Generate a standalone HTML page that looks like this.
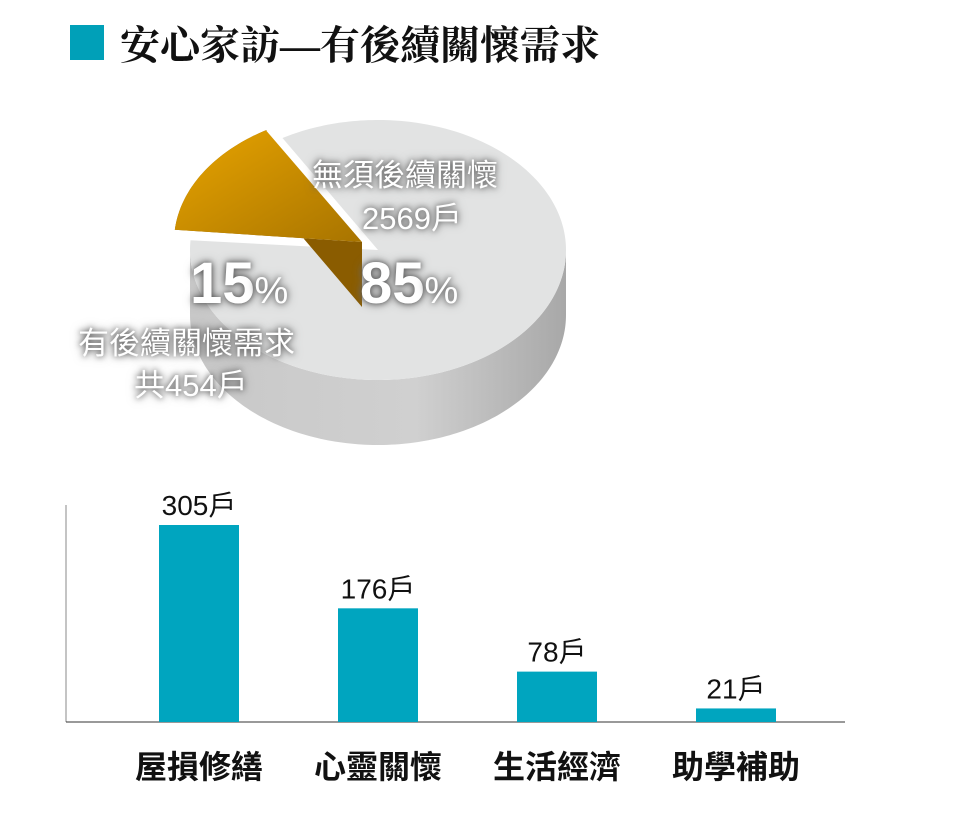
<!DOCTYPE html>
<html><head><meta charset="utf-8">
<style>
body{margin:0;width:980px;height:822px;background:#fff;overflow:hidden;position:relative;font-family:"Liberation Sans","Noto Sans CJK TC",sans-serif;}
.t{position:absolute;white-space:nowrap;}
</style></head><body>
<div class="t" style="left:70px;top:25px;width:34px;height:35px;background:#00a0b8"></div>
<div class="t" style="left:120px;top:14px;font-family:'Liberation Serif','Noto Serif CJK SC',serif;font-weight:bold;font-size:40px;color:#111">安心家訪—有後續關懷需求</div>

<svg width="980" height="822" style="position:absolute;left:0;top:0">
<defs>
<linearGradient id="side" x1="0" x2="1"><stop offset="0" stop-color="#c8c8c8"/><stop offset="0.6" stop-color="#d0d0d0"/><stop offset="1" stop-color="#a8a8a8"/></linearGradient>
<linearGradient id="or" x1="0" x2="1" y1="0" y2="1"><stop offset="0" stop-color="#e8a400"/><stop offset="1" stop-color="#a87400"/></linearGradient>
</defs>
<g id="pie"></g>
</svg>

<div class="t" style="left:312px;top:150px;font-size:31px;color:#fff;text-shadow:0 0 6px #555,0 0 10px #777">無須後續關懷</div>
<div class="t" style="left:362px;top:193px;font-size:31px;color:#fff;text-shadow:0 0 6px #555,0 0 10px #777">2569戶</div>
<div class="t" style="left:360px;top:250px;font-size:58px;font-weight:bold;color:#fff;text-shadow:0 0 6px #555,0 0 10px #777">85<span style="font-size:38px;font-weight:normal">%</span></div>
<div class="t" style="left:190px;top:250px;font-size:58px;font-weight:bold;color:#fff;text-shadow:0 0 6px #555,0 0 10px #777">15<span style="font-size:38px;font-weight:normal">%</span></div>
<div class="t" style="left:78px;top:318px;font-size:31px;color:#fff;text-shadow:0 0 6px #555,0 0 10px #777">有後續關懷需求</div>
<div class="t" style="left:134px;top:360px;font-size:31px;color:#fff;text-shadow:0 0 6px #555,0 0 10px #777">共454戶</div>

<svg id="bars" width="980" height="822" style="position:absolute;left:0;top:0"></svg>

<script>
// pie
const sliceLabels=["無須後續關懷","有後續關懷需求"];
const sliceValues=[2569,454];
// bars
const categories=["屋損修繕","心靈關懷","生活經濟","助學補助"];
const values=[305,176,78,21];

const NS="http://www.w3.org/2000/svg";
function mk(t,a,p){const e=document.createElementNS(NS,t);for(const k in a)e.setAttribute(k,a[k]);p.appendChild(e);return e;}

// pie drawing
const pg=document.getElementById('pie');
const cx=378,cy=250,rx=188,ry=130,th=65;
const tot=sliceValues[0]+sliceValues[1];
const a0=Math.PI*1.03;
const aO=sliceValues[1]/tot*2*Math.PI;
function pt(a,ox,oy){return [cx+ox+rx*Math.cos(a),cy+oy+ry*Math.sin(a)];}
const gs=a0+aO, ge=a0+2*Math.PI;
const sd=[];const s1=Math.max(gs,2*Math.PI),s2=Math.min(ge,3*Math.PI);
for(let a=s1;a<=s2+1e-6;a+=0.02){sd.push(pt(a,0,0));}
const sp="M"+sd.map(p=>p.join(',')).join(' L')+" L"+sd.slice().reverse().map(p=>[p[0],p[1]+th].join(',')).join(' L')+"Z";
const gSide=mk('path',{d:sp,fill:'url(#side)'},pg);


const gTop=[];for(let a=gs;a<=ge+1e-6;a+=0.02)gTop.push(pt(a,0,0));
const gTopPath=mk('path',{d:`M${cx},${cy} L`+gTop.map(p=>p.join(',')).join(' L')+'Z',fill:'#e2e3e3'},pg);


const ox=-16,oy=-8;
const ot=[];for(let a=a0;a<=a0+aO+1e-6;a+=0.02)ot.push(pt(a,ox,oy));
const os=[];for(let a=Math.max(a0,Math.PI);a<=a0+aO;a+=0.02)os.push(pt(a,ox,oy));
if(os.length){const e=pt(a0+aO,ox,oy);const osp="M"+os.map(p=>p.join(',')).join(' L')+" L"+e.join(',')+" L"+e[0]+","+(e[1]+th)+" L"+(cx+ox)+","+(cy+oy+th)+" L"+(cx+ox)+","+(cy+oy)+"Z";
const o2=mk('path',{d:osp,fill:'#8a5c00'},pg);

}
const o1=mk('path',{d:`M${cx+ox},${cy+oy} L`+ot.map(p=>p.join(',')).join(' L')+'Z',fill:'url(#or)'},pg);



// bars
const bsvg=document.getElementById('bars');
const base=722,scale=197/305;
const x0=66,step=179,bw=80,bx0=159;
const yS=v=>base-v*scale;
const ya=mk('line',{x1:x0,y1:505,x2:x0,y2:base,stroke:'#888','stroke-width':1},bsvg);


const xa=mk('line',{x1:x0,y1:base,x2:845,y2:base,stroke:'#333','stroke-width':1},bsvg);


categories.forEach((c,i)=>{
  const x=bx0+i*step;
  const r=mk('rect',{x:x,y:yS(values[i]),width:bw,height:base-yS(values[i]),fill:'#00a5bf'},bsvg);
  
  
  const t=mk('text',{x:x+bw/2,y:yS(values[i])-10,'text-anchor':'middle','font-size':28,fill:'#111'},bsvg);
  t.textContent=values[i]+'戶';
  
  
  const l=mk('text',{x:x+bw/2,y:778,'text-anchor':'middle','font-size':32,'font-weight':'bold',fill:'#111'},bsvg);
  l.textContent=c;
  
  
});
</script>
</body></html>
